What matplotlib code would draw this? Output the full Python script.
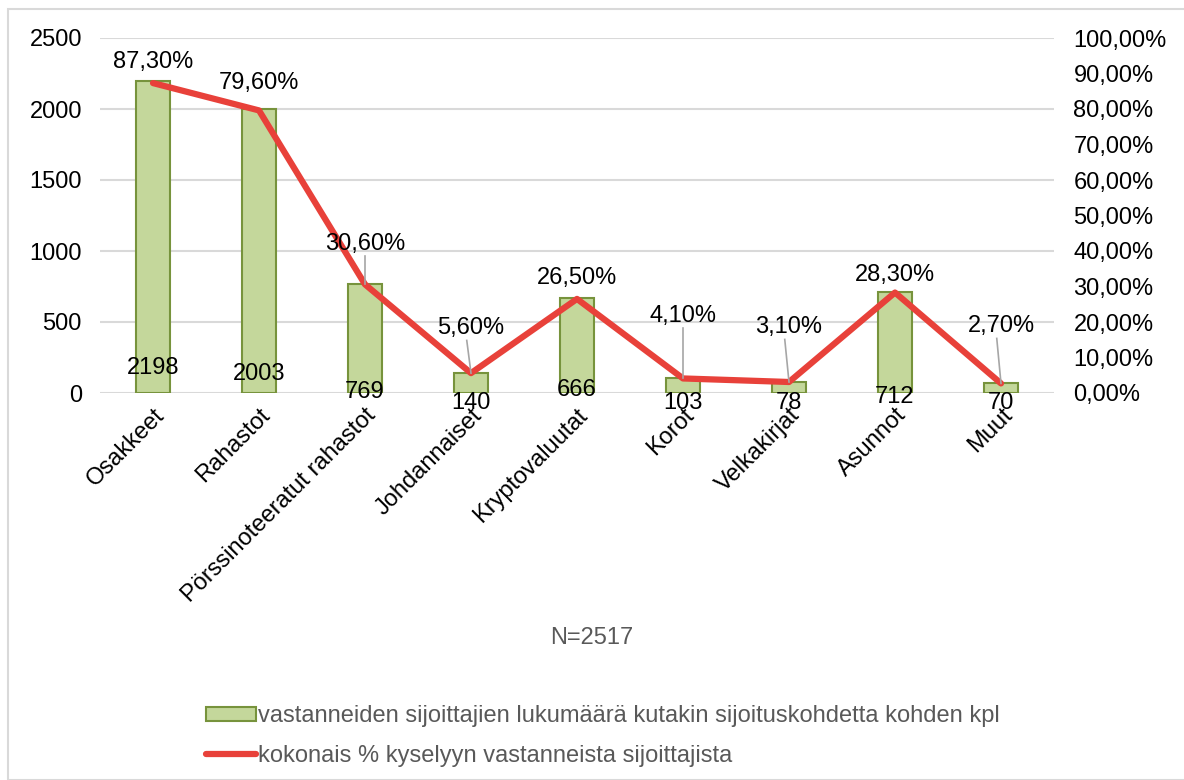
import matplotlib.pyplot as plt
from matplotlib.patches import Rectangle, Patch

categories = ['Osakkeet', 'Rahastot', 'Pörssinoteeratut rahastot', 'Johdannaiset',
              'Kryptovaluutat', 'Korot', 'Velkakirjat', 'Asunnot', 'Muut']
counts = [2198, 2003, 769, 140, 666, 103, 78, 712, 70]
shares = [87.3, 79.6, 30.6, 5.6, 26.5, 4.1, 3.1, 28.3, 2.7]
pct_labels = ['87,30%', '79,60%', '30,60%', '5,60%', '26,50%', '4,10%', '3,10%', '28,30%', '2,70%']
bar_label = 'vastanneiden sijoittajien lukumäärä kutakin sijoituskohdetta kohden kpl'
line_label = 'kokonais % kyselyyn vastanneista sijoittajista'

# label placement (pixels), as Excel left them
count_off = [25, 19, 1, -10, 3, -10, -10, -4, -10]
pct_y = [62, 83, 244, 328, 278, 316, 327, 275, 326]
leader = [False, False, True, True, False, True, True, False, True]

plt.rcParams['font.family'] = ['Liberation Sans', 'DejaVu Sans']
FS = 17
W, H = 1184, 780
fig = plt.figure(figsize=(W / 100, H / 100), dpi=100)
fig.patches.append(Rectangle((8 / W, 0), 1.2, (H - 9) / H, transform=fig.transFigure,
                             fill=False, edgecolor='#D9D9D9', linewidth=1.5))

left, right, top, bot = 100, 1054, 38, 393
ax = fig.add_axes([left / W, 1 - bot / H, (right - left) / W, (bot - top) / H])
ax2 = ax.twinx()

x = list(range(len(categories)))
ax.bar(x, counts, width=0.32, color='#C4D79B', edgecolor='#77933C', linewidth=1.5, zorder=2)
ax.set_ylim(0, 2500)
ax.set_xlim(-0.5, len(categories) - 0.5)
ax.set_yticks(range(0, 2501, 500))
ax.yaxis.grid(True, color='#D9D9D9', linewidth=1.5, zorder=0)
ax.set_axisbelow(True)
for s in ax.spines.values():
    s.set_visible(False)
for s in ax2.spines.values():
    s.set_visible(False)
ax.tick_params(axis='y', length=0, labelsize=FS, pad=13)
ax.tick_params(axis='x', length=0, labelsize=FS, pad=8)
ax.set_xticks(x)
ax.set_xticklabels(categories, rotation=45, ha='right', rotation_mode='anchor')

ax2.plot(x, shares, color='#E8413A', linewidth=4.5, solid_capstyle='round', zorder=3)
ax2.set_ylim(0, 100)
ax2.set_yticks(range(0, 101, 10))
ax2.set_yticklabels(['%d,00%%' % v for v in range(0, 101, 10)])
ax2.tick_params(axis='y', length=0, labelsize=FS, pad=14)

upp = 2500 / (bot - top)
for i, c in enumerate(counts):
    ax.text(i, count_off[i] * upp, str(c), ha='center', va='center', fontsize=FS, zorder=5)

ppp = 100 / (bot - top)
for i, p in enumerate(shares):
    ly = (bot - pct_y[i]) * ppp
    ax2.text(i, ly, pct_labels[i], ha='center', va='center', fontsize=FS, zorder=5)
    if leader[i]:
        ax2.plot([i - 0.04 if i in (3, 6, 8) else i, i], [ly - 3.5, p],
                 color='#A6A6A6', linewidth=1.2, zorder=4)

fig.text(592 / W, 1 - 638 / H, 'N=2517', ha='center', va='center', fontsize=FS, color='#595959')

bh = Patch(facecolor='#C4D79B', edgecolor='#77933C', linewidth=1.5)
lh, = ax.plot([], [], color='#E8413A', linewidth=4.5, solid_capstyle='round')
fig.legend([bh, lh], [bar_label, line_label], loc='upper left',
           bbox_to_anchor=(185 / W, 1 - 684 / H), frameon=False, fontsize=FS,
           labelcolor='#595959', handlelength=2.1, handleheight=0.55,
           handletextpad=0.1, labelspacing=0.75)

fig.savefig('out.png', dpi=100)
